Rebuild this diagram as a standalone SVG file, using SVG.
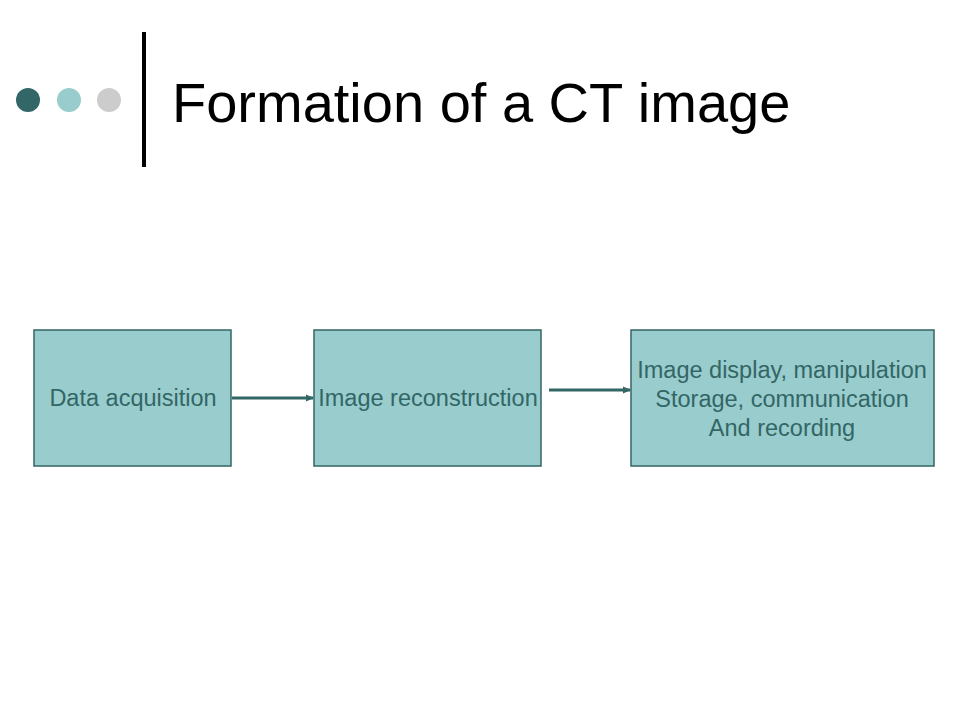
<svg xmlns="http://www.w3.org/2000/svg" width="960" height="720" viewBox="0 0 960 720">
<style>
.box{fill:#99CCCC;stroke:#336666;stroke-width:1.5}
.lbl{font-family:"Liberation Sans",Arial,sans-serif;font-size:23.5px;fill:#336666;text-anchor:middle}
.conn{stroke:#336666;stroke-width:3;fill:none;marker-end:url(#ah)}
</style>
<defs>
<marker id="ah" markerWidth="8" markerHeight="8" refX="7" refY="4" orient="auto" markerUnits="userSpaceOnUse">
<path d="M0,0.5 L8,4 L0,7.5 Z" fill="#336666"/>
</marker>
</defs>
<rect width="960" height="720" fill="#FFFFFF"/>
<g id="header">
<circle cx="28" cy="100" r="12" fill="#336666"/>
<circle cx="69" cy="100" r="12" fill="#99CCCC"/>
<circle cx="109" cy="100" r="12" fill="#CCCCCC"/>
<rect x="142" y="32" width="4" height="135" fill="#000000"/>
<text x="172" y="122" font-family="'Liberation Sans',Arial,sans-serif" font-size="56" fill="#000000">Formation of a CT image</text>
</g>
<g id="node-data">
<rect class="box" x="34" y="330" width="197" height="136"/>
<text class="lbl" x="133" y="406">Data acquisition</text>
</g>
<g id="node-recon">
<rect class="box" x="314" y="330" width="227" height="136"/>
<text class="lbl" x="428" y="406">Image reconstruction</text>
</g>
<g id="node-display">
<rect class="box" x="631" y="330" width="303" height="136"/>
<text class="lbl" x="782" y="378">Image display, manipulation</text>
<text class="lbl" x="782" y="407">Storage, communication</text>
<text class="lbl" x="782" y="436">And recording</text>
</g>
<g id="connectors">
<line class="conn" x1="232" y1="398" x2="313" y2="398"/>
<line class="conn" x1="549" y1="390" x2="630" y2="390"/>
</g>
</svg>
